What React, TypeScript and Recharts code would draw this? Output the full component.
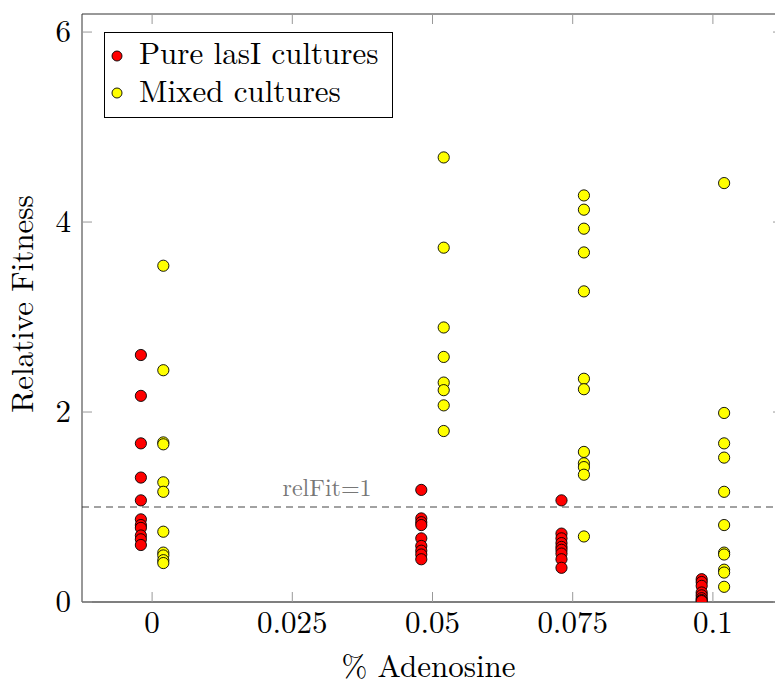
import React from 'react';
import { ScatterChart, Scatter, XAxis, YAxis, ReferenceLine, ReferenceDot, Legend } from 'recharts';

// Adenosine concentrations (x positions of the groups) and axis ticks
const adenosineLevels = [0, 0.025, 0.05, 0.075, 0.1];
const fitnessTicks = [0, 2, 4, 6];

// Relative fitness of pure lasI cultures, per adenosine level
const pureAt0 = [2.6, 2.17, 1.67, 1.31, 1.07, 0.87, 0.81, 0.78, 0.7, 0.66, 0.6];
const pureAt005 = [1.18, 0.88, 0.84, 0.81, 0.67, 0.59, 0.54, 0.5, 0.45];
const pureAt0075 = [1.07, 0.72, 0.67, 0.62, 0.58, 0.55, 0.51, 0.45, 0.36];
const pureAt01 = [0.24, 0.21, 0.17, 0.1, 0.07, 0.04, 0.02, 0.01];

// Relative fitness of mixed cultures, per adenosine level
const mixedAt0 = [3.54, 2.44, 1.68, 1.66, 1.26, 1.16, 0.74, 0.52, 0.49, 0.44, 0.41];
const mixedAt005 = [4.68, 3.73, 2.89, 2.58, 2.31, 2.23, 2.07, 1.8];
const mixedAt0075 = [4.28, 4.13, 3.93, 3.68, 3.27, 2.35, 2.24, 1.58, 1.46, 1.42, 1.34, 0.69];
const mixedAt01 = [4.41, 1.99, 1.67, 1.52, 1.16, 0.81, 0.52, 0.5, 0.34, 0.31, 0.16];

const referenceFitness = 1;
const referenceLabel = 'relFit=1';
const referenceLabelAt = 0.0312;

const pureName = 'Pure lasI cultures';
const mixedName = 'Mixed cultures';
const xTitle = '% Adenosine';
const yTitle = 'Relative Fitness';

// the two series sit side by side around each concentration
const DODGE = 0.002;
const FONT = "'Latin Modern Roman', 'Liberation Serif', serif";
const FS = 31;

const toPoints = (level: number, values: number[], shift: number) =>
  values.map((v) => ({ x: level + shift, y: v }));

const pureData = [
  ...toPoints(adenosineLevels[0], pureAt0, -DODGE),
  ...toPoints(adenosineLevels[2], pureAt005, -DODGE),
  ...toPoints(adenosineLevels[3], pureAt0075, -DODGE),
  ...toPoints(adenosineLevels[4], pureAt01, -DODGE),
];
const mixedData = [
  ...toPoints(adenosineLevels[0], mixedAt0, DODGE),
  ...toPoints(adenosineLevels[2], mixedAt005, DODGE),
  ...toPoints(adenosineLevels[3], mixedAt0075, DODGE),
  ...toPoints(adenosineLevels[4], mixedAt01, DODGE),
];

const TICK_LEN = 10;
const TICK_COLOR = '#999';

const BottomTick = (props: any) => {
  const { x, y, payload } = props;
  return (
    <g>
      <line x1={x} x2={x} y1={y} y2={y - TICK_LEN} stroke={TICK_COLOR} strokeWidth={1} />
      <text x={x} y={y + 31} textAnchor="middle" fontFamily={FONT} fontSize={FS} fill="#000">
        {String(payload.value)}
      </text>
    </g>
  );
};
const TopTick = (props: any) => {
  const { x, y } = props;
  return <line x1={x} x2={x} y1={y} y2={y + TICK_LEN} stroke={TICK_COLOR} strokeWidth={1} />;
};
const LeftTick = (props: any) => {
  const { x, y, payload } = props;
  return (
    <g>
      <line x1={x} x2={x + TICK_LEN} y1={y} y2={y} stroke={TICK_COLOR} strokeWidth={1} />
      <text x={x - 11} y={y + 10} textAnchor="end" fontFamily={FONT} fontSize={FS} fill="#000">
        {String(payload.value)}
      </text>
    </g>
  );
};
const RightTick = (props: any) => {
  const { x, y } = props;
  return <line x1={x - TICK_LEN} x2={x} y1={y} y2={y} stroke={TICK_COLOR} strokeWidth={1} />;
};

const dot = (fill: string) => (props: any) =>
  <circle cx={props.cx} cy={props.cy} r={5.6} fill={fill} stroke="#000" strokeWidth={0.9} />;

const legendItems = [
  { name: pureName, fill: '#ff0000' },
  { name: mixedName, fill: '#ffff00' },
];

const LegendBox = () => (
  <svg width={289} height={86} style={{ display: 'block', overflow: 'visible' }}>
    <rect x={0.5} y={0.5} width={288} height={85} fill="#fff" stroke="#000" strokeWidth={1} />
    {legendItems.map((item, i) => (
      <g key={item.name}>
        <circle cx={13} cy={24 + i * 37} r={5} fill={item.fill} stroke="#000" strokeWidth={0.9} />
        <text x={35} y={32 + i * 37.5} fontFamily={FONT} fontSize={FS} fill="#000">
          {item.name}
        </text>
      </g>
    ))}
  </svg>
);

export default function App() {
  return (
    <div style={{ position: 'absolute', left: 0, top: 0, width: 775, height: 682, overflow: 'hidden', background: '#fff' }}>
      <ScatterChart width={800} height={682} margin={{ top: 0, right: 0, bottom: 0, left: 0 }}>
        <XAxis
          xAxisId="bottom"
          dataKey="x"
          type="number"
          domain={[-0.0125, 0.1125]}
          ticks={adenosineLevels}
          allowDataOverflow
          height={80}
          tickSize={0}
          tickMargin={0}
          tickLine={false}
          axisLine={{ stroke: '#000', strokeWidth: 1.1 }}
          tick={<BottomTick />}
          interval={0}
          label={(props: any) => {
            const vb = props.viewBox;
            return (
              <text x={vb.x + vb.width / 2 - 4} y={vb.y + 75} textAnchor="middle" fontFamily={FONT} fontSize={FS} fill="#000">
                {xTitle}
              </text>
            );
          }}
        />
        <XAxis
          xAxisId="top"
          orientation="top"
          dataKey="x"
          type="number"
          domain={[-0.0125, 0.1125]}
          ticks={adenosineLevels}
          allowDataOverflow
          height={14}
          tickSize={0}
          tickMargin={0}
          tickLine={false}
          axisLine={{ stroke: '#333', strokeWidth: 1 }}
          tick={<TopTick />}
          interval={0}
        />
        <YAxis
          yAxisId="left"
          dataKey="y"
          type="number"
          domain={[0, 6.19]}
          ticks={fitnessTicks}
          allowDataOverflow
          width={82}
          tickSize={0}
          tickMargin={0}
          tickLine={false}
          axisLine={{ stroke: '#333', strokeWidth: 1 }}
          tick={<LeftTick />}
          interval={0}
          label={(props: any) => {
            const vb = props.viewBox;
            const cx = vb.x + 33;
            const cy = vb.y + vb.height / 2 - 4;
            return (
              <text x={cx} y={cy} transform={`rotate(-90, ${cx}, ${cy})`} textAnchor="middle" fontFamily={FONT} fontSize={FS} fill="#000">
                {yTitle}
              </text>
            );
          }}
        />
        <YAxis
          yAxisId="right"
          orientation="right"
          dataKey="y"
          type="number"
          domain={[0, 6.19]}
          ticks={fitnessTicks}
          allowDataOverflow
          width={17}
          tickSize={0}
          tickMargin={0}
          tickLine={false}
          axisLine={{ stroke: '#333', strokeWidth: 1 }}
          tick={<RightTick />}
          interval={0}
        />
        <ReferenceLine
          xAxisId="bottom"
          yAxisId="left"
          y={referenceFitness}
          stroke="#444"
          strokeWidth={1}
          strokeDasharray="7 5"
        />
        <ReferenceDot
          xAxisId="bottom"
          yAxisId="left"
          x={referenceLabelAt}
          y={referenceFitness}
          r={0.01}
          fill="none"
          stroke="none"
          label={{ value: referenceLabel, position: 'top', offset: 11, fontFamily: FONT, fontSize: 24, fill: '#777' }}
        />
        <Scatter
          name={pureName}
          data={pureData}
          xAxisId="bottom"
          yAxisId="left"
          fill="#ff0000"
          shape={dot('#ff0000')}
          isAnimationActive={false}
        />
        <Scatter
          name={mixedName}
          data={mixedData}
          xAxisId="bottom"
          yAxisId="left"
          fill="#ffff00"
          shape={dot('#ffff00')}
          isAnimationActive={false}
        />
        <Legend
          layout="vertical"
          align="center"
          verticalAlign="middle"
          content={() => <LegendBox />}
          wrapperStyle={{ left: 104, top: 32, width: 289, height: 86 }}
        />
      </ScatterChart>
    </div>
  );
}
